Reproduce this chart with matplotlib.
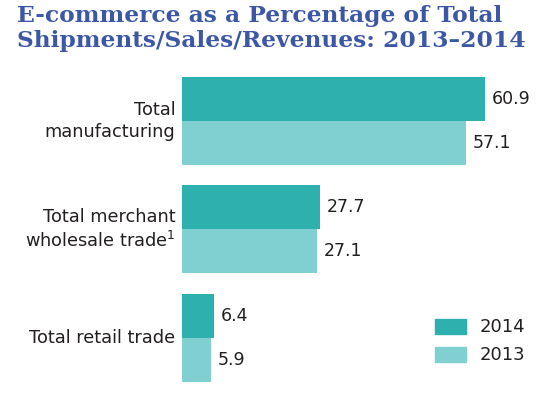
import numpy as np
import matplotlib.pyplot as plt

# data
categories = ['Total\nmanufacturing', 'Total merchant\nwholesale trade$^{\\mathregular{1}}$', 'Total retail trade']
vals_2014 = [60.9, 27.7, 6.4]
vals_2013 = [57.1, 27.1, 5.9]
years = ['2014', '2013']

c14 = '#2EB0AE'
c13 = '#80D0D2'
title_col = '#3B57A5'
txt_col = '#231F20'

W, H = 559, 399
fig = plt.figure(figsize=(W/100, H/100), dpi=100)

# axes spans from bar origin (x=182px) to the right edge
ax = fig.add_axes([182/W, 0, 1-182/W, 1])
ax.set_xlim(0, (W-182)/4.975)
ax.set_ylim((H-120.7)/108.5, -120.7/108.5)
ax.axis('off')

pos = np.arange(len(categories))
h = 0.405
ax.barh(pos-h/2, vals_2014, height=h, color=c14, label=years[0])
ax.barh(pos+h/2, vals_2013, height=h, color=c13, label=years[1])

for i in range(len(categories)):
    ax.text(vals_2014[i]+1.3, pos[i]-h/2, '%.1f' % vals_2014[i], va='center', ha='left',
            fontsize=12.5, color=txt_col, family='DejaVu Sans')
    ax.text(vals_2013[i]+1.3, pos[i]+h/2, '%.1f' % vals_2013[i], va='center', ha='left',
            fontsize=12.5, color=txt_col, family='DejaVu Sans')
    ax.text(-1.3, pos[i], categories[i], va='center', ha='right', fontsize=12.8,
            color=txt_col, family='DejaVu Sans', linespacing=1.3)

# legend drawn by hand as boxes + labels
fig.patches.append(plt.Rectangle((435/W, 1-334/H), 31/W, 15/H, color=c14, transform=fig.transFigure))
fig.patches.append(plt.Rectangle((435/W, 1-362/H), 31/W, 15/H, color=c13, transform=fig.transFigure))
fig.text(480/W, 1-326.5/H, years[0], va='center', ha='left', fontsize=13, color=txt_col)
fig.text(480/W, 1-354.5/H, years[1], va='center', ha='left', fontsize=13, color=txt_col)

fig.text(17/W, 1-5/H, 'E-commerce as a Percentage of Total\nShipments/Sales/Revenues: 2013\u20132014',
         va='top', ha='left', fontsize=16.8, fontweight='bold', color=title_col,
         family='DejaVu Serif', linespacing=1.17)

fig.savefig('out.png', dpi=100)
